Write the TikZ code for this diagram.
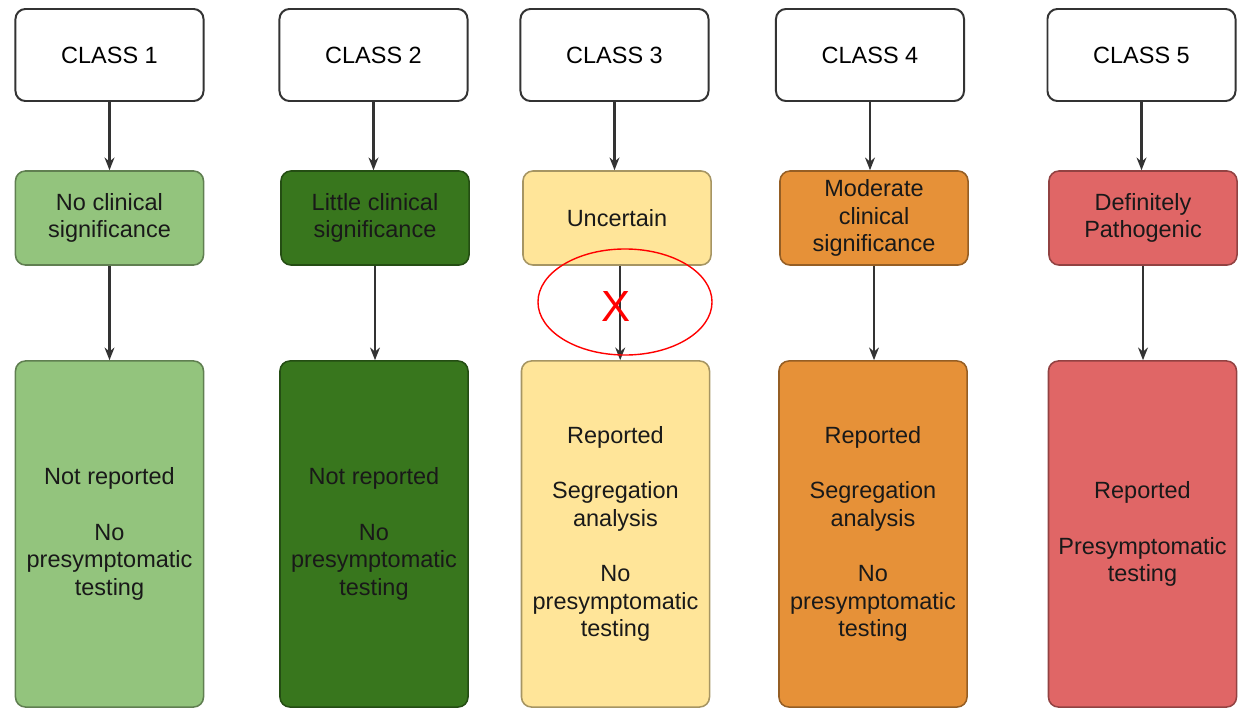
\documentclass[tikz,border=0pt]{standalone}
\usepackage{fontspec}
\setmainfont{Liberation Sans}
\usetikzlibrary{arrows.meta,shapes.geometric}
\definecolor{nogreen}{HTML}{93C47D}
\definecolor{littlegreen}{HTML}{38761D}
\definecolor{unsure}{HTML}{FFE599}
\definecolor{moderate}{HTML}{E69138}
\definecolor{patho}{HTML}{E06666}

\begin{document}
\begin{tikzpicture}[x=0.025cm,y=-0.025cm,
    font=\fontsize{16.7}{19.5}\selectfont,
    head/.style={draw=black!80,line width=1.4pt,rounded corners=0.25cm,fill=white,minimum width=4.7cm,minimum height=2.3cm,inner sep=2pt},
    tier/.style={draw=#1!65!black,fill=#1,line width=1.1pt,rounded corners=0.25cm,minimum width=4.7cm,minimum height=2.35cm,align=center,text=black!90,inner sep=2pt},
    outcome/.style={tier=#1,minimum height=8.65cm},
    link/.style={-{Stealth[length=9pt,width=7pt]},line width=1.5pt,draw=black!80}]
    \useasboundingbox (0,0) rectangle (1238,710);
    %classes
    \node [head] (c1) at (109.5,55) {CLASS 1};
    \node [head] (c2) at (373.5,55) {CLASS 2};
    \node [head] (c3) at (614.5,55) {CLASS 3};
    \node [head] (c4) at (870,55) {CLASS 4};
    \node [head] (c5) at (1141.5,55) {CLASS 5};
    %significance
    \node [tier=nogreen] (m1) at (109.5,218) {No clinical\\significance};
    \node [tier=littlegreen] (m2) at (375,218) {Little clinical\\significance};
    \node [tier=unsure] (m3) at (617,218) {Uncertain};
    \node [tier=moderate] (m4) at (874,218) {Moderate\\clinical\\significance};
    \node [tier=patho] (m5) at (1143,218) {Definitely\\Pathogenic};
    %outcome
    \node [outcome=nogreen] (b1) at (109.5,534) {Not reported\\[20pt]No\\presymptomatic\\testing};
    \node [outcome=littlegreen] (b2) at (374,534) {Not reported\\[20pt]No\\presymptomatic\\testing};
    \node [outcome=unsure] (b3) at (615.5,534) {Reported\\[20pt]Segregation\\analysis\\[20pt]No\\presymptomatic\\testing};
    \node [outcome=moderate] (b4) at (873,534) {Reported\\[20pt]Segregation\\analysis\\[20pt]No\\presymptomatic\\testing};
    \node [outcome=patho] (b5) at (1142.5,534) {Reported\\[20pt]Presymptomatic\\testing};
    %arrows
    \draw [link] (c1.south) -- (c1.south |- m1.north);
    \draw [link] (c2.south) -- (c2.south |- m2.north);
    \draw [link] (c3.south) -- (c3.south |- m3.north);
    \draw [link] (c4.south) -- (c4.south |- m4.north);
    \draw [link] (c5.south) -- (c5.south |- m5.north);
    \draw [link] (m1.south) -- (m1.south |- b1.north);
    \draw [link] (m2.south) -- (m2.south |- b2.north);
    \draw [link] ([xshift=0.08cm]m3.south) -- ([xshift=0.08cm]m3.south |- b3.north);
    \draw [link] (m4.south) -- (m4.south |- b4.north);
    \draw [link] (m5.south) -- (m5.south |- b5.north);
    %crossed out
    \node [ellipse,draw=red,line width=1pt,minimum width=4.35cm,minimum height=2.65cm] (ring) at (625,302) {};
    \node [text=red,font=\fontsize{31}{31}\selectfont] (cross) at (616,307) {X};
\end{tikzpicture}
\end{document}
